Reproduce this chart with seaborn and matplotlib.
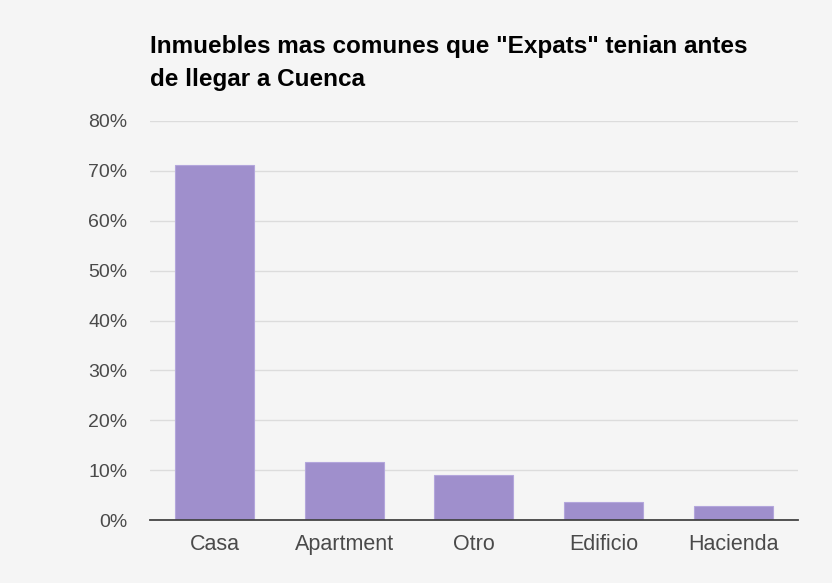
import numpy as np
import pandas as pd
import matplotlib.pyplot as plt
import seaborn as sns
from matplotlib.ticker import PercentFormatter

categories = ["Casa", "Apartment", "Otro", "Edificio", "Hacienda"]
values = [71.2, 11.7, 9.0, 3.7, 2.9]
yticks = [0, 10, 20, 30, 40, 50, 60, 70, 80]

sns.set_theme(style="white")
plt.rcParams['font.family'] = ['Liberation Sans', 'DejaVu Sans']

bg = "#f5f5f5"
df = pd.DataFrame({"cat": categories, "val": values})

fig = plt.figure(figsize=(8.32, 5.83), dpi=100, facecolor=bg)
ax = fig.add_axes([0.180, 0.108, 0.779, 0.6845])
ax.set_facecolor(bg)

sns.barplot(data=df, x="cat", y="val", color="#9f8fcc", width=0.61,
            saturation=1, edgecolor="#b3a6dc", linewidth=0.8, ax=ax, zorder=3)

ax.set_ylim(0, 80)
ax.set_xlim(-0.5, len(categories) - 0.5)
ax.set_yticks(yticks)
ax.yaxis.set_major_formatter(PercentFormatter(decimals=0))
ax.grid(axis="y", color="#dcdcdc", linewidth=1, zorder=0)
ax.set_axisbelow(True)

for s in ["top", "right", "left"]:
    ax.spines[s].set_visible(False)
ax.spines["bottom"].set_color("#444444")
ax.spines["bottom"].set_linewidth(1.3)
ax.spines["bottom"].set_zorder(4)

ax.tick_params(axis="both", length=0, labelcolor="#4a4a4a")
ax.tick_params(axis="y", pad=16, labelsize=14)
ax.tick_params(axis="x", pad=10, labelsize=15.5)
ax.set_xlabel("")
ax.set_ylabel("")

fig.text(0.180, 0.94, 'Inmuebles mas comunes que "Expats" tenian antes\nde llegar a Cuenca',
         fontsize=17.5, fontweight="bold", color="#000000", ha="left", va="top",
         linespacing=1.55)

fig.savefig("out.png", dpi=100, facecolor=bg)
